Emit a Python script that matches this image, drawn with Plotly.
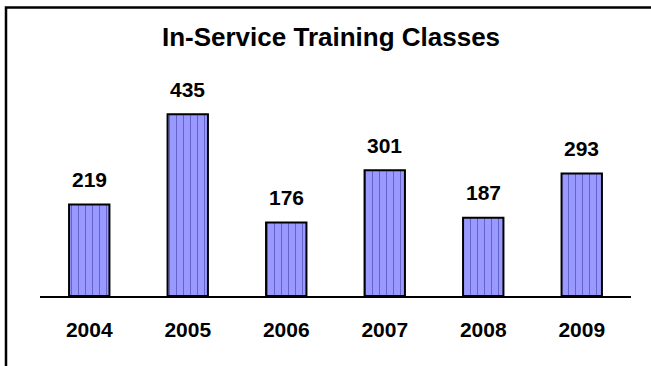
import plotly.graph_objects as go

# Classes held per year
years = ["2004", "2005", "2006", "2007", "2008", "2009"]
classes = [219, 435, 176, 301, 187, 293]

title_text = "In-Service Training Classes"

W, H = 651, 366
ml, mr, mt, mb = 40, 20, 62, 70
pw, ph = W - ml - mr, H - mt - mb
FONT = "Liberation Sans, Arial, sans-serif"


def px_to_paper_x(px):
    return (px - ml) / pw


def px_to_paper_y(py):
    return 1 - (py - mt) / ph


fig = go.Figure()
fig.add_trace(go.Bar(
    x=years,
    y=classes,
    width=0.41,
    marker=dict(
        color="#9999FF",
        line=dict(color="black", width=2),
        pattern=dict(shape="|", size=7, solidity=0.14,
                     fgcolor="#3a3aa0", fgopacity=0.6, fillmode="overlay"),
    ),
    hoverinfo="x+y",
))

# Value labels above each bar (category axis positions are indices)
for i, v in enumerate(classes):
    fig.add_annotation(
        x=i, y=v, xref="x", yref="y", text=str(v), showarrow=False,
        yanchor="middle", yshift=25,
        font=dict(family=FONT, size=21, color="black", weight="bold"),
    )

# Outer frame around the chart
fig.add_shape(
    type="rect", xref="paper", yref="paper",
    x0=px_to_paper_x(6), x1=px_to_paper_x(662),
    y0=px_to_paper_y(380), y1=px_to_paper_y(7.5),
    line=dict(color="black", width=2.5),
    fillcolor="rgba(0,0,0,0)", layer="above",
)

fig.update_layout(
    width=W, height=H,
    margin=dict(l=ml, r=mr, t=mt, b=mb),
    paper_bgcolor="white",
    plot_bgcolor="white",
    showlegend=False,
    title=dict(
        text=title_text,
        x=331 / W, xanchor="center",
        y=1 - 37 / H, yanchor="middle",
        font=dict(family=FONT, size=26, color="black", weight="bold"),
    ),
    xaxis=dict(
        type="category",
        range=[-0.5, 5.5],
        showline=True, linecolor="black", linewidth=2,
        showgrid=False, zeroline=False, ticks="",
        ticklabelstandoff=14,
        tickfont=dict(family=FONT, size=21, color="black", weight="bold"),
        fixedrange=True,
    ),
    yaxis=dict(
        range=[0, 560],
        visible=False,
        fixedrange=True,
    ),
)

fig.write_html("out.html")
